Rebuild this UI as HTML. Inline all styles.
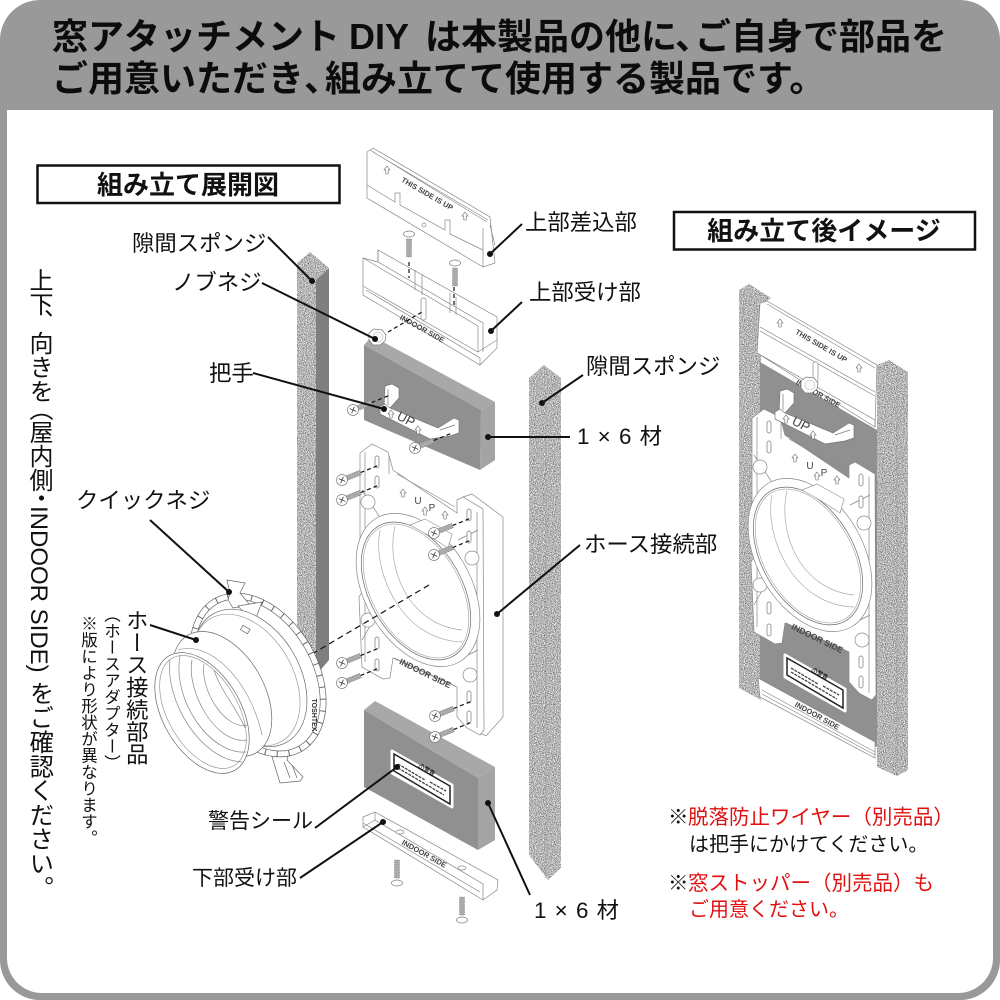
<!DOCTYPE html>
<html lang="ja"><head><meta charset="utf-8"><title>組み立て展開図</title>
<style>
html,body{margin:0;padding:0;background:#fff}
#p{position:relative;width:1000px;height:1000px;overflow:hidden;font-family:"Liberation Sans","Noto Sans CJK JP",sans-serif;color:#111}
svg{position:absolute;left:0;top:0}
.v{position:absolute;writing-mode:vertical-rl;white-space:nowrap;line-height:1}
.m{left:26px;font-size:24px}
</style></head><body><div id="p">
<svg width="1000" height="1000" viewBox="0 0 1000 1000" font-family="'Liberation Sans','Noto Sans CJK JP',sans-serif">
<defs>
<filter id="g" x="0" y="0" width="100%" height="100%" color-interpolation-filters="sRGB">
<feTurbulence type="fractalNoise" baseFrequency="1.1" numOctaves="2" seed="4"/>
<feColorMatrix values="1.3 0 0 0 .06 1.3 0 0 0 .06 1.3 0 0 0 .06 0 0 0 0 1"/>
<feComposite in2="SourceGraphic" operator="in"/>
</filter>
<g id="screw"><line x1="20" y1="0" x2="40" y2="0" stroke="#111" stroke-width="1.2" stroke-dasharray="4 3"/><rect x="4" y="-2.4" width="16" height="4.8" fill="#aaa" stroke="#777" stroke-width=".5" stroke-dasharray="1.5 1"/><circle r="5.5" fill="#fff" stroke="#777" stroke-width=".7"/><path d="M-2.5-2.5 2.5 2.5M-2.5 2.5 2.5-2.5" stroke="#444" stroke-width=".9"/></g>
<g id="vscrew"><rect x="-2.5" y="5" width="5" height="18" fill="#aaa" stroke="#777" stroke-width=".5" stroke-dasharray="1.5 1"/><ellipse rx="5.5" ry="3" fill="#fff" stroke="#777" stroke-width=".7"/></g>
<g id="up"><path d="M0-4 3 0H1.2V4H-1.2V0H-3Z" fill="#fff" stroke="#666" stroke-width=".6"/></g>
<g id="slot"><rect x="-2" y="-6" width="4" height="12" rx="2" fill="#fff" stroke="#777" stroke-width=".7"/></g>
<g id="knob"><polygon points="-8,-4 -3,-8 5,-7 9,-2 8,4 3,8 -4,8 -8,3" fill="#fff" stroke="#777" stroke-width=".7"/><circle cx="1" cy="0" r="5" fill="#fafafa" stroke="#aaa" stroke-width=".5"/></g>

<g id="plate" fill="#fff" stroke="#888" stroke-width=".7">
<path d="M360 453 372 444 388 452 393 470 457 513 457 500 463 497 483 509 484 730 480 735 467 728 457 717 457 687 393 658 390 678 383 679 362 667 359 597 362 592 360 560Z"/>
<path fill="none" d="M365 452V555M477 512V728M389 456V474M397 474 455 507M394 658 455 686M365 597V662M362 490 385 525M458 540 478 530M458 660 478 650M362 640 385 600"/>
<circle cx="368" cy="502" r="7"/>
<circle cx="472" cy="558" r="7"/>
<circle cx="470" cy="675" r="7"/>
<circle cx="368" cy="620" r="7"/>
<ellipse cx="418" cy="590" rx="83" ry="53" transform="rotate(60 418 590)"/>
<ellipse cx="416" cy="591" rx="75" ry="46" transform="rotate(60 416 591)" stroke="#666"/>
<ellipse cx="416" cy="591" rx="73" ry="44" transform="rotate(60 416 591)" stroke="#aaa"/>
<path fill="none" stroke="#aaa" d="M380 530C372 570 400 640 462 642M395 526C385 570 410 625 462 630"/>
<path d="M410 525 425 519 452 534 448 548 428 535Z" stroke="#999"/>
<use href="#slot" x="377" y="462"/><use href="#slot" x="377" y="482"/><use href="#slot" x="469" y="515"/><use href="#slot" x="469" y="537"/>
<use href="#slot" x="377" y="643"/><use href="#slot" x="377" y="665"/><use href="#slot" x="469" y="697"/><use href="#slot" x="469" y="717"/>
<use href="#up" x="403" y="493"/><use href="#up" x="445" y="515"/><use href="#up" x="425" y="511"/>
<text x="418" y="504" font-size="10" fill="#444" stroke="none" text-anchor="middle">U</text>
<text x="432" y="511" font-size="10" fill="#444" stroke="none" text-anchor="middle">P</text>
<text transform="translate(424 676) rotate(26)" font-size="8.5" font-weight="700" fill="#444" stroke="none" text-anchor="middle">INDOOR SIDE</text>
</g>

<g id="handle" fill="#fff" stroke="#777" stroke-width=".7">
<path d="M385 386 392 384 399 388 399 398 390 408 384 408Z"/>
<path d="M380 407 385 404 390 408 438 428 454 418 459 420 459 433 450 436 430 439 380 414Z"/>
<path fill="none" d="M440 430 455 425M388 389 388 405"/>
<use href="#up" x="391" y="414"/><use href="#up" x="418" y="430"/>
<text transform="translate(404 423) rotate(28)" font-size="13" fill="#444" stroke="none" text-anchor="middle">UP</text>
</g>

<g id="label"><polygon points="392,751 452,785 452,807 392,773" fill="#fff" stroke="#fff" stroke-width="3" stroke-linejoin="round"/><polygon points="394,754 450,786 450,804 394,771" fill="#fff" stroke="#222" stroke-width="1.5"/>
<path d="M398 764 425 780M398 768 444 795M430 782 446 791" stroke="#444" stroke-width="1.3" stroke-dasharray="3 1"/>
<text transform="translate(418 767) rotate(30)" font-size="6" font-weight="700" fill="#111">⚠警告</text></g>
</defs>

<!-- frame -->
<path d="M40 0H960A40 40 0 0 1 1000 40V960A40 40 0 0 1 960 1000H40A40 40 0 0 1 0 960V40A40 40 0 0 1 40 0Z" fill="#999"/>
<path d="M7 110H993V958A35 35 0 0 1 958 993H42A35 35 0 0 1 7 958Z" fill="#fff"/>

<!-- header -->
<text y="49" font-size="36" font-weight="700" fill="#0c0c0c"><tspan x="52">窓アタッチメント</tspan> <tspan x="349">DIY</tspan> <tspan x="425">は本製品の他に</tspan><tspan x="675">、</tspan><tspan x="695">ご自身で部品を</tspan></text>
<text y="91" font-size="36" font-weight="700" fill="#0c0c0c"><tspan x="52">ご用意いただき</tspan><tspan x="304">、</tspan><tspan x="325">組み立てて使用する製品です。</tspan></text>

<!-- boxes -->
<rect x="37.5" y="165.5" width="302" height="37.5" fill="#fff" stroke="#111" stroke-width="2.5"/>
<text x="188" y="194" font-size="26" font-weight="700" text-anchor="middle" fill="#111">組み立て展開図</text>
<rect x="674" y="212" width="301" height="37.5" fill="#fff" stroke="#111" stroke-width="2.5"/>
<text x="824" y="240" font-size="26" font-weight="700" text-anchor="middle" fill="#111">組み立て後イメージ</text>

<!-- left sponge -->
<polygon points="316,280 329,268 329,660 318,673 316,673" fill="#7f7f7f"/>
<polygon points="297,263 310,252 329,268 316,280 316,673 297,660" fill="#aaa" filter="url(#g)"/>
<!-- right sponge -->
<polygon points="529,378 544,365 561,378 561,868 548,880 529,855" fill="#aaa" filter="url(#g)"/>
<path d="M529 378 546 392 561 378M546 392V878" fill="none" stroke="#999" stroke-width=".5"/>

<!-- top rail -->
<g fill="#fff" stroke="#888" stroke-width=".7">
<polygon points="367,152 373,148 490,217 495,263 483,267 367,198"/>
<path fill="none" d="M373 152 488 220M370 150 487 222M367 185 395 202 395 193 400 193 400 205 445 230 445 220 450 220 450 234 483 250M483 228V267M490 225 495 245"/>
<circle cx="424" cy="225" r="2"/>
<use href="#up" x="387" y="170"/><use href="#up" x="465" y="216"/>
<text transform="translate(426 196) rotate(30)" font-size="7.5" font-weight="700" fill="#444" stroke="none" text-anchor="middle">THIS SIDE IS UP</text>
</g>
<!-- mid rail -->
<g fill="#fff" stroke="#888" stroke-width=".7">
<polygon points="378,250 497,317 497,348 480,365 363,295 363,258 378,262"/>
<path fill="none" d="M378 250V262L483 323V352M363 258 478 326V352M363 286 478 352 497 340M366 290 480 358V365M415 270V290M422 275V295M450 293V313M456 297V315"/>
<rect x="421" y="298" width="5" height="22" rx="2"/>
<text transform="translate(421 331) rotate(29)" font-size="7.5" font-weight="700" fill="#444" stroke="none" text-anchor="middle">INDOOR SIDE</text>
</g>
<g stroke="#111" stroke-width="1.2" stroke-dasharray="4 3" fill="none"><path d="M409 262V278M454 280V305M388 332 422 312"/></g>
<use href="#vscrew" x="409" y="234"/><use href="#vscrew" x="455" y="263"/>

<!-- wood 1 -->
<polygon points="364,345 372,336 495,402 481,410" fill="#a8a8a8"/>
<polygon points="481,410 495,402 495,460 480,470" fill="#a4a4a4"/>
<polygon points="364,345 481,410 480,470 364,420" fill="#909090"/>
<use href="#handle"/>
<use href="#screw" transform="translate(353 410) rotate(-22)"/>
<use href="#screw" transform="translate(415 448) rotate(-22)"/>
<use href="#knob" x="377" y="337"/>

<!-- hose plate exploded -->
<polygon points="463,497 472,494 503,517 503,717 486,736 478,732 478,510" fill="#fff" stroke="#888" stroke-width=".7"/>
<use href="#plate"/>
<use href="#screw" transform="translate(342 480) rotate(-22)"/>
<use href="#screw" transform="translate(342 500) rotate(-22)"/>
<use href="#screw" transform="translate(434 533) rotate(-22)"/>
<use href="#screw" transform="translate(434 555) rotate(-22)"/>
<use href="#screw" transform="translate(342 663) rotate(-22)"/>
<use href="#screw" transform="translate(342 683) rotate(-22)"/>
<use href="#screw" transform="translate(435 716) rotate(-22)"/>
<line x1="429" y1="585" x2="312" y2="654" stroke="#111" stroke-width="1.2" stroke-dasharray="6 4"/>

<!-- wood 2 -->
<polygon points="364,710 375,701 495,767 478,778" fill="#a8a8a8"/>
<polygon points="478,778 495,767 495,840 478,850" fill="#a4a4a4"/>
<polygon points="364,710 478,778 478,850 364,787" fill="#909090"/>
<use href="#label"/>
<use href="#screw" transform="translate(435 737) rotate(-22)"/>

<!-- lower rail -->
<g fill="#fff" stroke="#888" stroke-width=".7">
<polygon points="363,817 375,812 498,880 497,890 483,900 363,827"/>
<path fill="none" d="M375 812V820L483 884V900M363 823 480 892M363 827 375 820"/>
<ellipse cx="400" cy="832" rx="4" ry="2"/><ellipse cx="462" cy="868" rx="4" ry="2"/>
<text transform="translate(423 856) rotate(29)" font-size="7.5" font-weight="700" fill="#444" stroke="none" text-anchor="middle">INDOOR SIDE</text>
</g>
<use href="#vscrew" transform="translate(397 883) rotate(180)"/>
<use href="#vscrew" transform="translate(462 920) rotate(180)"/>

<!-- hose adapter -->
<g fill="#fff" stroke="#666" stroke-width=".7">
<path d="M270 750 290 748 287 760 303 777 300 781 280 783 277 773 273 760Z"/><path fill="none" d="M284 762 290 778M292 765 297 778"/>
<ellipse cx="258" cy="675" rx="88" ry="60" transform="rotate(60 258 675)"/>
<ellipse cx="258" cy="675" rx="85" ry="57" transform="rotate(60 258 675)" fill="none" stroke="#555" stroke-width="6" stroke-dasharray=".9 11"/>
<ellipse cx="258" cy="675" rx="82" ry="54" transform="rotate(60 258 675)"/>
<path d="M227 580 245 583 240 593 250 605 233 608 228 600 230 593Z"/>
<path d="M238 606 262 602 256 618 246 615Z"/>
<ellipse cx="250" cy="678" rx="74" ry="50" transform="rotate(60 250 678)"/>
<ellipse cx="246" cy="680" rx="71" ry="47" transform="rotate(60 246 680)" stroke="#999"/>
<rect x="241" y="627" width="8" height="5" transform="rotate(30 245 630)"/>
<ellipse cx="222" cy="694" rx="68" ry="42" transform="rotate(60 222 694)"/>
<path fill="none" stroke="#999" d="M178 650C210 640 250 680 262 735"/>
<ellipse cx="202" cy="713" rx="66" ry="39" transform="rotate(60 202 713)"/>
<ellipse cx="203" cy="712" rx="62" ry="35" transform="rotate(60 203 712)" stroke="#999"/>
<path fill="none" stroke="#888" d="M170 660C165 700 200 760 242 762M180 656C172 700 210 755 246 752M192 660C186 690 215 745 247 740M204 664C200 690 225 730 247 725M214 670C220 690 238 710 245 728"/>
<text transform="translate(312 715) rotate(90)" font-size="7" font-weight="700" fill="#333" stroke="none" text-anchor="middle">TOSHTEX</text>
</g>

<!-- assembled -->
<polygon points="739,290 749,284 771,298 761,305 761,700 739,688" fill="#aaa" filter="url(#g)"/>
<polygon points="877,365 889,360 908,372 908,770 897,776 877,767" fill="#aaa" filter="url(#g)"/>
<path d="M897 378V776" stroke="#999" stroke-width=".6"/>
<polygon points="760,362 877,430 877,747 760,683" fill="#909090"/>
<g fill="#fff" stroke="#888" stroke-width=".7">
<polygon points="760,303 767,301 877,365 875,427 757,353"/>
<path fill="none" d="M767 304 875 368M760 327 875 392M760 331 875 396M757 353 875 420V427"/>
<use href="#up" x="780" y="323"/><use href="#up" x="859" y="368"/>
<text transform="translate(820 348) rotate(30)" font-size="7.5" font-weight="700" fill="#444" stroke="none" text-anchor="middle">THIS SIDE IS UP</text>
<rect x="813" y="362" width="5" height="20" rx="2"/>
<text transform="translate(817 396) rotate(29)" font-size="7.5" font-weight="700" fill="#444" stroke="none" text-anchor="middle">INDOOR SIDE</text>
</g>
<use href="#knob" x="809" y="385"/>
<use href="#plate" transform="translate(392 -35)"/>
<use href="#handle" transform="translate(395 5)"/>
<use href="#label" transform="translate(393 -96)"/>
<g fill="#fff" stroke="#888" stroke-width=".7">
<polygon points="758,678 875,742 875,758 760,697"/>
<path fill="none" d="M762 690 875 752M762 694 875 755"/>
<text transform="translate(816 718) rotate(29)" font-size="7.5" font-weight="700" fill="#444" stroke="none" text-anchor="middle">INDOOR SIDE</text>
</g>

<!-- leaders -->
<g stroke="#111" stroke-width="2" fill="none">
<path d="M522 224 490 254M522 302 491 331M268 237 312 281M262 283 375 339M253 373 384 409M583 375 542 403M570 437 488 437M580 545 497 614M150 520 229 592M150 625 196 640M315 828 397 767M300 878 383 822M530 895 488 803"/>
</g>
<g fill="#111">
<circle cx="490" cy="254" r="3"/><circle cx="491" cy="331" r="3"/><circle cx="312" cy="281" r="3"/><circle cx="375" cy="339" r="3"/><circle cx="384" cy="409" r="3"/><circle cx="542" cy="403" r="3"/><circle cx="488" cy="437" r="3"/><circle cx="497" cy="614" r="3"/><circle cx="229" cy="592" r="3"/><circle cx="196" cy="640" r="3"/><circle cx="397" cy="767" r="3"/><circle cx="383" cy="822" r="3"/><circle cx="488" cy="803" r="3"/>
</g>

<!-- labels -->
<g font-size="22.4" fill="#111">
<text x="525" y="230">上部差込部</text>
<text x="529" y="300">上部受け部</text>
<text x="132" y="251">隙間スポンジ</text>
<text x="172" y="290">ノブネジ</text>
<text x="209" y="381">把手</text>
<text x="586" y="374">隙間スポンジ</text>
<text x="577" y="444" word-spacing="2">1 × 6 材</text>
<text x="584" y="552">ホース接続部</text>
<text x="76" y="508">クイックネジ</text>
<text x="208" y="828" font-size="21">警告シール</text>
<text x="192" y="885" font-size="21">下部受け部</text>
<text x="534" y="918" word-spacing="2">1 × 6 材</text>
</g>
<g font-size="20.5">
<text x="668" y="824" fill="#111">※</text><text x="688" y="824" fill="#e01010">脱落防止ワイヤー（別売品）</text>
<text x="689" y="851" fill="#111" font-size="20">は把手にかけてください。</text>
<text x="668" y="890" fill="#111">※</text><text x="688" y="890" fill="#e01010">窓ストッパー（別売品）も</text>
<text x="689" y="916" fill="#e01010" font-size="20">ご用意ください。</text>
</g>
</svg>
<div class="v m" style="top:268px">上下</div>
<div class="v m" style="top:309px">、</div>
<div class="v m" style="top:331px">向きを</div>
<div class="v m" style="top:397px">（</div>
<div class="v m" style="top:420px">屋内側</div>
<div class="v m" style="top:486px">・</div>
<div class="v m" style="top:506px">INDOOR SIDE)</div>
<div class="v m" style="top:681px;font-size:24.3px">をご確認ください。</div>
<div class="v" style="left:124px;top:609px;font-size:22.3px">ホース接続部品</div>
<div class="v" style="left:102px;top:606px;font-size:16.5px">（ホースアダプター）</div>
<div class="v" style="left:79px;top:615px;font-size:16.5px">※版により形状が異なります。</div>
</div></body></html>
